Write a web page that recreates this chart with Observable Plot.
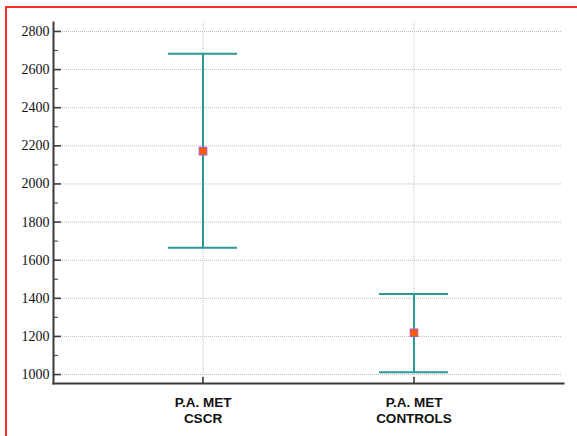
<!DOCTYPE html>
<html><head><meta charset="utf-8">
<script src="https://cdn.jsdelivr.net/npm/d3@7"></script>
<script src="https://cdn.jsdelivr.net/npm/@observablehq/plot@0.6"></script>
<style>
html,body{margin:0;padding:0;background:#fff;}
#wrap{position:relative;width:577px;height:436px;overflow:hidden;}
#border{position:absolute;left:5px;top:6px;right:-10px;bottom:-10px;border-top:2px solid #ff2b2b;border-left:2px solid #ff2b2b;pointer-events:none;}
#chart{position:absolute;left:0;top:0;}
</style></head><body>
<div id="wrap"><div id="chart"></div><div id="border"></div></div>
<script>
// Data
const categories = ["CSCR", "CONTROLS"];
const tickLabels = ["P.A. MET\nCSCR", "P.A. MET\nCONTROLS"];
const means = [2172, 1219];
const upper = [2683, 1422];
const lower = [1665, 1012];
const yMajorTicks = [1000, 1200, 1400, 1600, 1800, 2000, 2200, 2400, 2600, 2800];
const yMinorTicks = [1100, 1300, 1500, 1700, 1900, 2100, 2300, 2500, 2700];

const rows = categories.map((c, i) => ({cat: c, mean: means[i], hi: upper[i], lo: lower[i]}));
const labelOf = Object.fromEntries(categories.map((c, i) => [c, tickLabels[i]]));

const teal = "#2a9a98";
const axisColor = "#3a3a3a";

const chart = Plot.plot({
  width: 577,
  height: 436,
  marginLeft: 53,
  marginRight: 14,
  marginTop: 22,
  marginBottom: 53,
  style: {background: "transparent", overflow: "visible"},
  x: {type: "band", domain: categories, paddingInner: 0.673, paddingOuter: 0.5427, align: 0.5},
  y: {domain: [953, 2847]},
  marks: [
    Plot.gridY(yMajorTicks, {stroke: "#bdbdbd", strokeOpacity: 1, strokeDasharray: "1,1", insetLeft: 9, insetRight: 2}),
    Plot.gridX(categories, {stroke: "#c4c4c4", strokeOpacity: 1, strokeDasharray: "1,1"}),
    Plot.tickY(yMajorTicks, {y: d => d, stroke: axisColor, strokeWidth: 1.6, insetRight: 502}),
    Plot.tickY(yMinorTicks, {y: d => d, stroke: "#555", strokeWidth: 1.2, insetRight: 505}),
    Plot.tickX(categories, {x: d => d, stroke: axisColor, strokeWidth: 1.6, insetTop: 355}),
    Plot.frame({anchor: "left", stroke: axisColor, strokeWidth: 2}),
    Plot.frame({anchor: "bottom", stroke: axisColor, strokeWidth: 2}),
    Plot.axisY(yMajorTicks, {tickSize: 0, tickPadding: 4, label: null, tickFormat: d => String(d), fontFamily: "Liberation Serif", fontSize: 14, fill: "#111"}),
    Plot.axisX(categories, {tickSize: 0, tickPadding: 12, label: null, tickFormat: d => labelOf[d], fontFamily: "Liberation Sans", fontSize: 13.5, fontWeight: "bold", lineHeight: 1.2, fill: "#111"}),
    Plot.ruleX(rows, {x: "cat", y1: "lo", y2: "hi", stroke: teal, strokeWidth: 2}),
    Plot.tickY(rows, {x: "cat", y: "hi", stroke: teal, strokeWidth: 2}),
    Plot.tickY(rows, {x: "cat", y: "lo", stroke: teal, strokeWidth: 2}),
    Plot.dot(rows, {x: "cat", y: "mean", symbol: "square", r: 4.2, fill: "#ff5a00", stroke: "#b85aa8", strokeWidth: 1.2})
  ]
});
document.getElementById("chart").appendChild(chart);
</script>
</body></html>
